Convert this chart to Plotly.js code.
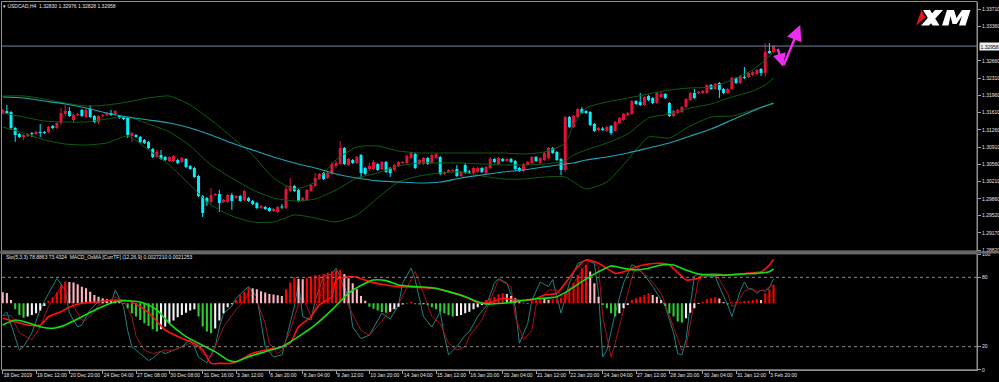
<!DOCTYPE html>
<html><head><meta charset="utf-8">
<script src="https://cdn.plot.ly/plotly-3.0.1.min.js"></script>
<style>html,body{margin:0;padding:0;background:#000;}#chart{width:999px;height:382px;}</style>
</head><body><div id="chart"></div>
<script>
// ---------- data ----------
const symbolTitle = '\u25BE USDCAD,H4  1.32830 1.32976 1.32828 1.32958';
const indicatorTitle = 'Sto(5,3,3) 78.8863 73.4324  MACD_OsMA [CurrTF] (12,26,9) 0.0027210 0.0021253';
const xTickText = ['18 Dec 2019','19 Dec 12:00','20 Dec 20:00','24 Dec 04:00','27 Dec 08:00','30 Dec 08:00','31 Dec 16:00','3 Jan 12:00','6 Jan 20:00','8 Jan 04:00','9 Jan 12:00','10 Jan 20:00','14 Jan 04:00','15 Jan 12:00','16 Jan 20:00','20 Jan 04:00','21 Jan 12:00','22 Jan 20:00','24 Jan 04:00','27 Jan 12:00','28 Jan 20:00','30 Jan 04:00','31 Jan 12:00','3 Feb 20:00'];
const priceTicks = [1.33710,1.33360,1.32660,1.32310,1.31960,1.31610,1.31260,1.30910,1.30560,1.30210,1.29860,1.29520,1.29170,1.28820];
const stochTicks = [0,20,80,100];
const stochLevels = [20,80];
const lastPrice = 1.32958;

const openP = [1.31600,1.31641,1.31620,1.31296,1.31174,1.31113,1.31133,1.31194,1.31174,1.31215,
1.31215,1.31215,1.31336,1.31296,1.31397,1.31580,1.31641,1.31458,1.31559,1.31661,
1.31519,1.31681,1.31539,1.31417,1.31539,1.31559,1.31600,1.31580,1.31539,1.31519,
1.31499,1.31133,1.31154,1.31113,1.31052,1.31012,1.30870,1.30707,1.30748,1.30707,
1.30626,1.30626,1.30647,1.30606,1.30667,1.30525,1.30484,1.30322,1.29916,1.29876,
1.29795,1.29937,1.29957,1.29795,1.29795,1.29937,1.29876,1.29916,1.29835,1.29876,
1.29815,1.29774,1.29673,1.29693,1.29673,1.29612,1.29592,1.29693,1.29673,1.30018,
1.30119,1.30038,1.29815,1.29835,1.30018,1.30119,1.30261,1.30383,1.30281,1.30363,
1.30525,1.30565,1.30890,1.30545,1.30647,1.30586,1.30748,1.30484,1.30464,1.30464,
1.30565,1.30464,1.30606,1.30484,1.30444,1.30525,1.30586,1.30586,1.30687,1.30768,
1.30565,1.30565,1.30687,1.30586,1.30687,1.30707,1.30363,1.30403,1.30423,1.30464,
1.30322,1.30545,1.30413,1.30383,1.30403,1.30484,1.30383,1.30484,1.30667,1.30565,
1.30667,1.30626,1.30667,1.30626,1.30484,1.30423,1.30545,1.30586,1.30707,1.30586,
1.30647,1.30687,1.30890,1.30809,1.30667,1.30444,1.31519,1.31316,1.31519,1.31681,
1.31641,1.31620,1.31377,1.31255,1.31286,1.31235,1.31336,1.31235,1.31397,1.31458,
1.31559,1.31580,1.31843,1.31823,1.31762,1.31945,1.31904,1.31803,1.31925,1.31985,
1.31803,1.31539,1.31600,1.31620,1.31722,1.31864,1.32006,1.32006,1.32006,1.32006,
1.32168,1.32087,1.32209,1.32087,1.32006,1.32087,1.32310,1.32209,1.32330,1.32330,
1.32371,1.32391,1.32493,1.32412,1.32858,1.32830];
const highP = [1.31681,1.31762,1.31641,1.31316,1.31194,1.31174,1.31194,1.31215,1.31235,1.31377,
1.31235,1.31336,1.31357,1.31417,1.31701,1.31762,1.31722,1.31580,1.31600,1.31681,
1.31701,1.31762,1.31559,1.31559,1.31580,1.31620,1.31661,1.31661,1.31559,1.31539,
1.31519,1.31215,1.31174,1.31133,1.31073,1.31032,1.30890,1.30849,1.30849,1.30728,
1.30728,1.30748,1.30667,1.30707,1.30687,1.30545,1.30505,1.30342,1.29937,1.29896,
1.30079,1.29977,1.30038,1.29855,1.29957,1.29977,1.29937,1.29937,1.30038,1.29896,
1.29835,1.29795,1.29734,1.29713,1.29693,1.29673,1.29713,1.29754,1.30139,1.30281,
1.30139,1.30058,1.29896,1.30058,1.30160,1.30383,1.30383,1.30403,1.30403,1.30606,
1.30626,1.31032,1.30910,1.30687,1.30667,1.30728,1.30768,1.30505,1.30586,1.30647,
1.30586,1.30626,1.30626,1.30505,1.30565,1.30626,1.30626,1.30768,1.30809,1.30789,
1.30667,1.30707,1.30707,1.30768,1.30789,1.30728,1.30423,1.30464,1.30464,1.30545,
1.30423,1.30586,1.30444,1.30505,1.30505,1.30505,1.30525,1.30707,1.30687,1.30707,
1.30687,1.30687,1.30687,1.30647,1.30505,1.30586,1.30626,1.30728,1.30728,1.30707,
1.30809,1.30910,1.30910,1.30829,1.30687,1.31539,1.31539,1.31559,1.31701,1.31722,
1.31661,1.31641,1.31397,1.31316,1.31316,1.31336,1.31357,1.31438,1.31519,1.31600,
1.31620,1.31864,1.31864,1.32006,1.31945,1.31965,1.31925,1.32026,1.32026,1.32006,
1.31823,1.31661,1.31681,1.31742,1.31904,1.32026,1.32087,1.32046,1.32067,1.32188,
1.32188,1.32209,1.32229,1.32107,1.32107,1.32330,1.32330,1.32371,1.32533,1.32432,
1.32452,1.32493,1.32513,1.33021,1.33021,1.32976];
const lowP = [1.31580,1.31580,1.31255,1.31012,1.31093,1.31052,1.31113,1.31113,1.31154,1.31113,
1.31174,1.31194,1.31275,1.31275,1.31357,1.31539,1.31519,1.31397,1.31539,1.31519,
1.31499,1.31499,1.31397,1.31377,1.31519,1.31539,1.31539,1.31539,1.31478,1.31458,
1.31093,1.31012,1.31093,1.30991,1.30971,1.30870,1.30687,1.30687,1.30647,1.30626,
1.30606,1.30606,1.30565,1.30586,1.30484,1.30444,1.30281,1.29896,1.29490,1.29713,
1.29754,1.29916,1.29592,1.29774,1.29774,1.29632,1.29855,1.29795,1.29815,1.29795,
1.29734,1.29653,1.29653,1.29632,1.29592,1.29592,1.29571,1.29653,1.29653,1.29997,
1.29997,1.29795,1.29795,1.29815,1.29997,1.30099,1.30241,1.30241,1.30261,1.30342,
1.30484,1.30545,1.30545,1.30525,1.30565,1.30565,1.30281,1.30342,1.30423,1.30444,
1.30423,1.30444,1.30383,1.30302,1.30423,1.30505,1.30565,1.30565,1.30667,1.30464,
1.30545,1.30545,1.30545,1.30565,1.30667,1.30342,1.30342,1.30383,1.30403,1.30302,
1.30302,1.30363,1.30363,1.30363,1.30383,1.30383,1.30363,1.30464,1.30586,1.30545,
1.30606,1.30606,1.30586,1.30444,1.30403,1.30403,1.30525,1.30565,1.30606,1.30565,
1.30626,1.30667,1.30768,1.30626,1.30342,1.30403,1.31296,1.31296,1.31499,1.31580,
1.31580,1.31336,1.31215,1.31235,1.31235,1.31215,1.31154,1.31215,1.31377,1.31438,
1.31539,1.31559,1.31762,1.31742,1.31742,1.31843,1.31783,1.31783,1.31904,1.31884,
1.31519,1.31519,1.31580,1.31600,1.31701,1.31843,1.31884,1.31985,1.31985,1.31985,
1.32067,1.32067,1.31904,1.31985,1.31985,1.32067,1.32188,1.32188,1.32290,1.32310,
1.32351,1.32371,1.32351,1.32330,1.32797,1.32828];
const closeP = [1.31661,1.31600,1.31296,1.31154,1.31113,1.31154,1.31174,1.31174,1.31215,1.31194,
1.31194,1.31316,1.31296,1.31397,1.31600,1.31641,1.31539,1.31559,1.31580,1.31539,
1.31661,1.31519,1.31417,1.31539,1.31559,1.31600,1.31559,1.31641,1.31499,1.31478,
1.31154,1.31194,1.31113,1.31012,1.30991,1.30890,1.30707,1.30809,1.30667,1.30647,
1.30707,1.30728,1.30586,1.30687,1.30505,1.30464,1.30302,1.29916,1.29571,1.29795,
1.29937,1.29957,1.29774,1.29835,1.29937,1.29815,1.29916,1.29815,1.30018,1.29815,
1.29754,1.29673,1.29713,1.29653,1.29612,1.29653,1.29693,1.29683,1.30058,1.30119,
1.30018,1.29815,1.29876,1.30038,1.30139,1.30281,1.30363,1.30261,1.30383,1.30565,
1.30586,1.30890,1.30565,1.30667,1.30586,1.30707,1.30383,1.30363,1.30525,1.30606,
1.30444,1.30606,1.30403,1.30383,1.30545,1.30606,1.30606,1.30728,1.30789,1.30484,
1.30647,1.30687,1.30565,1.30748,1.30768,1.30363,1.30403,1.30444,1.30444,1.30322,
1.30403,1.30383,1.30393,1.30484,1.30484,1.30403,1.30505,1.30667,1.30606,1.30687,
1.30626,1.30667,1.30606,1.30464,1.30423,1.30565,1.30606,1.30707,1.30626,1.30687,
1.30789,1.30890,1.30789,1.30647,1.30444,1.31519,1.31316,1.31539,1.31681,1.31600,
1.31600,1.31357,1.31235,1.31296,1.31255,1.31316,1.31194,1.31417,1.31499,1.31580,
1.31600,1.31843,1.31783,1.31762,1.31925,1.31864,1.31803,1.32006,1.31985,1.31904,
1.31539,1.31641,1.31661,1.31722,1.31884,1.32006,1.31904,1.32026,1.32046,1.32168,
1.32087,1.32188,1.32067,1.32006,1.32087,1.32310,1.32209,1.32351,1.32310,1.32412,
1.32432,1.32473,1.32412,1.32838,1.32818,1.32958];

// Bollinger bands (20,2) and moving average, read at these bars
const bandIdx = [0,5,10,15,20,25,30,35,40,45,50,55,60,65,70,75,80,85,90,95,100,105,110,115,120,125,130,135,137,140,145,150,155,160,165,170,175,180,183,185];
const bbUpper = [1.31945,1.31945,1.31884,1.31803,1.31742,1.31762,1.31823,1.31904,1.31945,1.31762,1.31458,1.31113,1.30748,1.30281,1.30058,1.30200,1.30647,1.30910,1.30931,1.30829,1.30789,1.30789,1.30789,1.30789,1.30789,1.30768,1.30809,1.30991,1.31357,1.31701,1.31823,1.31904,1.31985,1.32067,1.32107,1.32127,1.32270,1.32473,1.32675,1.32838];
const bbMiddle = [1.31600,1.31519,1.31438,1.31417,1.31417,1.31478,1.31519,1.31377,1.31215,1.30931,1.30545,1.30281,1.30038,1.29876,1.29815,1.29855,1.30038,1.30281,1.30383,1.30525,1.30586,1.30586,1.30586,1.30565,1.30545,1.30545,1.30565,1.30626,1.30748,1.30849,1.30991,1.31174,1.31499,1.31580,1.31701,1.31783,1.31925,1.32046,1.32168,1.32310];
const bbLower = [1.31316,1.31194,1.31052,1.30971,1.30951,1.30991,1.31133,1.30849,1.30545,1.30139,1.29734,1.29511,1.29389,1.29389,1.29531,1.29470,1.29389,1.29531,1.29876,1.30200,1.30322,1.30383,1.30403,1.30322,1.30261,1.30261,1.30302,1.30302,1.30200,1.30058,1.30200,1.30647,1.31113,1.31093,1.31336,1.31519,1.31539,1.31661,1.31742,1.31783];
const maLine = [1.31925,1.31904,1.31843,1.31783,1.31701,1.31600,1.31519,1.31458,1.31397,1.31296,1.31154,1.30991,1.30849,1.30707,1.30586,1.30484,1.30363,1.30281,1.30221,1.30200,1.30180,1.30200,1.30281,1.30342,1.30403,1.30444,1.30505,1.30565,1.30586,1.30647,1.30707,1.30789,1.30890,1.30991,1.31133,1.31275,1.31458,1.31641,1.31742,1.31803];

// Stochastic (5,3,3)
const stochKIdx = [0,1,4,5,7,9,11,13,15,16,18,19,21,23,24,26,27,29,30,31,33,35,36,38,39,41,43,45,46,47,49,51,52,53,55,56,58,59,61,62,63,65,67,68,70,71,72,74,75,77,79,
80,83,84,86,88,91,93,95,96,98,99,101,103,105,106,107,109,111,112,114,116,118,119,121,123,124,126,127,129,131,132,134,136,138,140,142,143,144,145,147,149,151,152,154,156,158,
159,161,162,163,164,165,166,167,168,171,172,174,175,176,177,178,179,180,181,182,183,184,185];
const stochK = [47,50,17,20,32,52,66,79,69,49,37,39,52,59,60,57,69,55,34,20,14,8,10,16,14,17,20,26,20,11,6,20,37,49,55,62,69,72,63,43,20,11,13,26,55,75,46,43,60,81,83,
88,63,37,27,30,49,44,56,75,88,78,46,37,50,29,13,20,30,33,46,55,75,79,75,55,23,40,60,76,72,78,49,75,92,95,92,66,11,17,49,75,91,89,82,72,60,
55,32,14,13,26,55,81,83,81,81,72,56,46,57,68,76,70,70,66,69,68,71,78.8863];
const stochDIdx = [0,2,4,7,9,11,14,15,17,19,20,22,23,25,27,29,31,32,34,36,39,41,43,45,47,48,50,51,53,55,56,58,59,61,63,64,66,67,69,71,72,74,75,77,79,
81,83,86,88,91,93,95,98,99,101,103,105,107,109,111,112,115,117,119,122,123,125,127,128,131,133,135,136,139,141,143,144,146,147,149,151,152,155,158,
159,161,163,164,165,166,167,169,171,172,174,175,176,178,179,180,181,183,184,185];
const stochD = [47,47,32,26,37,55,72,70,55,43,43,50,56,59,63,60,46,29,17,14,17,17,20,23,20,14,11,20,37,47,52,60,66,60,40,23,14,17,34,57,63,46,53,72,83,
80,55,34,30,42,52,57,78,85,66,46,40,23,17,20,29,43,60,78,72,46,26,34,56,69,69,60,69,86,95,89,46,11,23,52,80,89,80,66,
57,37,17,20,40,60,78,82,82,78,66,55,56,68,70,69,68,69,72,73.4324];

// MACD (12,26,9): main, signal, colored OsMA histogram
const macdIdx = [0,3,6,9,11,14,16,19,23,27,30,33,36,39,43,46,48,50,52,55,57,60,63,67,69,71,74,76,79,
80,83,85,88,92,95,99,103,107,111,114,117,120,123,127,130,133,135,138,140,143,145,147,150,152,155,158,
160,163,164,167,168,171,174,177,180,182,184,185];
const macdMain = [-0.00093,-0.00114,-0.00134,-0.00134,-0.00083,-0.00052,-0.00025,0.0,0.00010,0.00020,0.00016,-0.00021,-0.00083,-0.00165,-0.00216,-0.00247,-0.00289,-0.00371,-0.00371,-0.00371,-0.00350,-0.00309,-0.00289,-0.00268,-0.00247,-0.00145,-0.00083,-0.00010,0.00041,
0.00144,0.00165,0.00161,0.00134,0.00113,0.00103,0.00099,0.00093,0.00072,0.00041,0.00004,0.00004,0.00031,0.00020,0.00020,0.00051,0.00062,0.00124,0.00226,0.00268,0.00247,0.00216,0.00185,0.00202,0.00226,0.00243,0.00247,
0.00237,0.00165,0.00144,0.00155,0.00175,0.00181,0.00175,0.00181,0.00189,0.00195,0.00237,0.0027210];
const signalIdx = [0,3,6,9,12,15,19,23,27,31,34,37,40,44,47,51,54,56,59,63,67,71,75,79,
83,87,89,92,95,99,104,107,111,114,116,120,127,133,136,139,143,146,149,152,155,158,
161,164,167,170,174,178,181,184,185];
const macdSignal = [-0.00134,-0.00103,-0.00120,-0.00145,-0.00155,-0.00134,-0.00083,-0.00031,0.00010,0.00014,0.0,-0.00041,-0.00124,-0.00206,-0.00247,-0.00299,-0.00350,-0.00361,-0.00330,-0.00299,-0.00268,-0.00206,-0.00134,-0.00041,
0.00062,0.00124,0.00144,0.00140,0.00113,0.00103,0.00093,0.00072,0.00041,0.00010,-0.00004,0.0,0.00025,0.00041,0.00082,0.00134,0.00195,0.00231,0.00216,0.00206,0.00216,0.00237,
0.00237,0.00206,0.00181,0.00175,0.00175,0.00181,0.00185,0.00195,0.0021253];
const osma = [0.00068,0.00064,0.00021,-0.00037,-0.00072,-0.00089,-0.00082,-0.00072,-0.00062,-0.00045,
-0.00016,0.00016,0.00037,0.00066,0.00113,0.00134,0.00132,0.00128,0.00117,0.00103,
0.00093,0.00072,0.00052,0.00041,0.00031,0.00025,0.00021,0.00016,0.00010,-0.00004,
-0.00031,-0.00062,-0.00082,-0.00103,-0.00124,-0.00140,-0.00161,-0.00175,-0.00161,-0.00144,
-0.00124,-0.00107,-0.00087,-0.00072,-0.00058,-0.00045,-0.00037,-0.00082,-0.00144,-0.00175,
-0.00185,-0.00155,-0.00107,-0.00062,-0.00025,-0.00006,0.00021,0.00052,0.00072,0.00099,
0.00093,0.00087,0.00074,0.00066,0.00058,0.00054,0.00049,0.00045,0.00087,0.00128,
0.00161,0.00152,0.00148,0.00157,0.00165,0.00173,0.00177,0.00181,0.00190,0.00196,
0.00202,0.00206,0.00181,0.00155,0.00124,0.00087,0.00045,0.00016,-0.00021,-0.00033,
-0.00045,-0.00054,-0.00058,-0.00052,-0.00037,-0.00021,-0.00008,-0.00002,0.00010,-0.00006,
-0.00008,-0.00006,-0.00012,-0.00025,-0.00037,-0.00052,-0.00062,-0.00074,-0.00082,-0.00078,
-0.00072,-0.00062,-0.00052,-0.00037,-0.00025,-0.00010,0.00021,0.00031,0.00041,0.00056,
0.00062,0.00058,0.00045,0.00031,0.00010,0.00004,-0.00004,0.00010,0.00021,0.00031,
0.00027,0.00021,0.00025,0.00029,0.00035,0.00062,0.00093,0.00124,0.00175,0.00216,
0.00237,0.00196,0.00124,0.00041,-0.00010,-0.00031,-0.00062,-0.00082,-0.00062,-0.00031,
-0.00010,0.00021,0.00031,0.00041,0.00052,0.00062,0.00052,0.00041,0.00021,-0.00016,
-0.00062,-0.00082,-0.00113,-0.00119,-0.00093,-0.00058,-0.00031,-0.00004,0.00010,0.00025,
0.00031,0.00037,0.00029,0.00008,-0.00008,0.00006,0.00008,0.00010,0.00014,0.00016,
0.00021,0.00025,0.00021,0.00062,0.00087,0.00113];

// magenta forecast arrow (bar index, price)
const arrowX = [185.9, 187.3, 191.4];
const arrowY = [1.32933, 1.32540, 1.33386];

// ---------- drawing ----------
const W = 999, H = 382;
const PX = v => v / W, PY = v => 1 - v / H;
const FONT = 'Liberation Sans, Arial, sans-serif';
const TXT = '#e6e6e6', FRAME = '#8f8f8f';
const BULL = '#e0143c', BEAR = '#00f0ff';

const idx = closeP.map((_, i) => i);
const bullIdx = idx.filter(i => closeP[i] >= openP[i]);
const bearIdx = idx.filter(i => closeP[i] < openP[i]);

function bodies(ids, color) {
  return { type: 'bar', x: ids,
    base: ids.map(i => Math.min(openP[i], closeP[i])),
    y: ids.map(i => Math.max(Math.abs(closeP[i] - openP[i]), 0.0002)),
    width: 0.72, marker: { color: color, line: { width: 0 } },
    xaxis: 'x', yaxis: 'y', hoverinfo: 'skip' };
}
function wicks(ids, color) {
  const x = [], y = [];
  ids.forEach(i => { x.push(i, i, null); y.push(lowP[i], highP[i], null); });
  return { type: 'scatter', mode: 'lines', x: x, y: y, line: { color: color, width: 1 },
    xaxis: 'x', yaxis: 'y', hoverinfo: 'skip' };
}
function line(x, y, color, width, xa, ya, shape) {
  return { type: 'scatter', mode: 'lines', x: x, y: y,
    line: { color: color, width: width, shape: shape || 'linear', smoothing: 0.6 },
    xaxis: xa, yaxis: ya, hoverinfo: 'skip' };
}
const histColors = osma.map((v, i) => {
  const prev = i === 0 ? null : osma[i - 1];
  if (v >= 0) return (prev !== null && v >= prev) ? '#ff0000' : '#ffb6c1';
  return (prev !== null && v <= prev) ? '#2fcc2f' : '#f4f4f4';
});

const bandColor = '#0f5f10';
const traces = [
  wicks(bullIdx, BULL), wicks(bearIdx, BEAR),
  bodies(bullIdx, BULL), bodies(bearIdx, BEAR),
  line(bandIdx, bbUpper, bandColor, 1, 'x', 'y', 'spline'),
  line(bandIdx, bbMiddle, bandColor, 1, 'x', 'y', 'spline'),
  line(bandIdx, bbLower, bandColor, 1, 'x', 'y', 'spline'),
  line(bandIdx, maLine, '#22a2b4', 1.2, 'x', 'y', 'spline'),
  { type: 'bar', x: idx, y: osma, width: 0.5, marker: { color: histColors, line: { width: 0 } },
    xaxis: 'x2', yaxis: 'y3', hoverinfo: 'skip' },
  line(stochKIdx, stochK, '#23807f', 1, 'x2', 'y2'),
  line(stochDIdx, stochD, '#a3121a', 1, 'x2', 'y2'),
  line(macdIdx, macdMain, '#ff1010', 1.6, 'x2', 'y3', 'spline'),
  line(signalIdx, macdSignal, '#12e012', 1.6, 'x2', 'y3', 'spline')
];

const xRange = [(2 - 2.7) / 4.1667, (977 - 2.7) / 4.1667];
const xDom = [PX(2), PX(977)];
const tickIdx = xTickText.map((_, k) => k * 8);

const shapes = [
  { type: 'line', xref: 'paper', yref: 'y', x0: xDom[0], x1: xDom[1], y0: lastPrice, y1: lastPrice,
    line: { color: '#76879a', width: 1 } },
  ...stochLevels.map(l => ({ type: 'line', xref: 'paper', yref: 'y2', x0: xDom[0], x1: xDom[1], y0: l, y1: l,
    line: { color: '#8a8a8a', width: 1, dash: 'dot' } })),
  { type: 'rect', xref: 'paper', yref: 'paper', x0: PX(1.5), x1: PX(977), y0: PY(251), y1: PY(1.5),
    line: { color: FRAME, width: 1 } },
  { type: 'rect', xref: 'paper', yref: 'paper', x0: PX(1.5), x1: PX(977), y0: PY(369.8), y1: PY(253.8),
    line: { color: FRAME, width: 1 } },
  { type: 'rect', xref: 'paper', yref: 'paper', x0: PX(0), x1: PX(999), y0: PY(253.5), y1: PY(251.3),
    line: { width: 0 }, fillcolor: '#6a6a6a' }
];
// XM logo (decoration)
function poly(pts) { return 'M' + pts.map(p => PX(p[0]) + ',' + PY(p[1])).join('L') + 'Z'; }
shapes.push(
  { type: 'path', xref: 'paper', yref: 'paper', path: poly([[923,10],[930,10],[939.5,25.5],[932.5,25.5]]), fillcolor: '#ffffff', line: { width: 0 } },
  { type: 'path', xref: 'paper', yref: 'paper', path: poly([[935,10],[943,10],[929,25.5],[921,25.5]]), fillcolor: '#ffffff', line: { width: 0 } },
  { type: 'path', xref: 'paper', yref: 'paper', path: poly([[942,25.5],[947,10],[954,10],[956.5,18],[962,10],[970.5,10],[965.5,25.5],[959,25.5],[962,16],[956.5,24],[952.5,24],[950.5,16],[948.5,25.5]]), fillcolor: '#ffffff', line: { width: 0 } },
  { type: 'path', xref: 'paper', yref: 'paper', path: poly([[921.5,10],[925.5,17.5],[916,25.5]]), fillcolor: '#e5131d', line: { width: 0 } }
);

const annotations = [
  { xref: 'paper', yref: 'paper', x: PX(4), y: PY(257), xanchor: 'left', yanchor: 'middle',
    text: indicatorTitle, showarrow: false, font: { family: FONT, size: 5, color: TXT } },
  { xref: 'paper', yref: 'y', x: PX(978.5), y: lastPrice, xanchor: 'left', yanchor: 'middle',
    text: lastPrice.toFixed(5), showarrow: false, bgcolor: '#f0f0f0', borderpad: 0.5,
    font: { family: FONT, size: 5, color: '#000' } },
  { xref: 'x', yref: 'y', axref: 'x', ayref: 'y', x: arrowX[1], y: arrowY[1], ax: arrowX[0], ay: arrowY[0],
    text: '', showarrow: true, arrowhead: 2, arrowsize: 1.1, arrowwidth: 2.4, arrowcolor: '#ee2cee', standoff: 0 },
  { xref: 'x', yref: 'y', axref: 'x', ayref: 'y', x: arrowX[2], y: arrowY[2], ax: arrowX[1], ay: arrowY[1],
    text: '', showarrow: true, arrowhead: 2, arrowsize: 1.3, arrowwidth: 2.4, arrowcolor: '#ee2cee', standoff: 0 }
];

const axBase = { showgrid: false, zeroline: false, fixedrange: true };
const layout = {
  width: W, height: H, margin: { l: 0, r: 0, t: 0, b: 0 },
  paper_bgcolor: '#000', plot_bgcolor: '#000', showlegend: false, barmode: 'overlay',
  title: { text: symbolTitle, x: PX(3), xanchor: 'left', y: PY(6.5), yanchor: 'middle',
    font: { family: FONT, size: 5, color: TXT } },
  xaxis: Object.assign({}, axBase, { domain: xDom, range: xRange, anchor: 'y', showticklabels: false, ticks: '' }),
  yaxis: Object.assign({}, axBase, { domain: [PY(251), PY(2)], range: [1.28800, 1.33852], side: 'right', anchor: 'x',
    tickvals: priceTicks, ticktext: priceTicks.map(v => v.toFixed(5)), ticks: 'outside', ticklen: 3,
    tickcolor: '#a0a0a0', showline: true, linecolor: FRAME, linewidth: 1,
    tickfont: { family: FONT, size: 5, color: TXT } }),
  xaxis2: Object.assign({}, axBase, { domain: xDom, range: xRange, anchor: 'y2',
    tickvals: tickIdx, ticktext: xTickText, ticks: 'outside', ticklen: 3, tickcolor: '#a0a0a0',
    tickangle: 0, ticklabelposition: 'outside right', showline: true, linecolor: FRAME,
    tickfont: { family: FONT, size: 5, color: TXT } }),
  yaxis2: Object.assign({}, axBase, { domain: [PY(369.8), PY(254.2)], range: [0, 100], side: 'right', anchor: 'x2',
    tickvals: stochTicks, ticktext: stochTicks.map(String), ticks: 'outside', ticklen: 3, tickcolor: '#a0a0a0',
    showline: true, linecolor: FRAME, tickfont: { family: FONT, size: 5, color: TXT } }),
  yaxis3: Object.assign({}, axBase, { overlaying: 'y2', anchor: 'x2', side: 'right', visible: false,
    range: [-0.00411, 0.003034] }),
  shapes: shapes, annotations: annotations
};

Plotly.newPlot('chart', traces, layout, { staticPlot: true, displayModeBar: false });
</script>
</body></html>
